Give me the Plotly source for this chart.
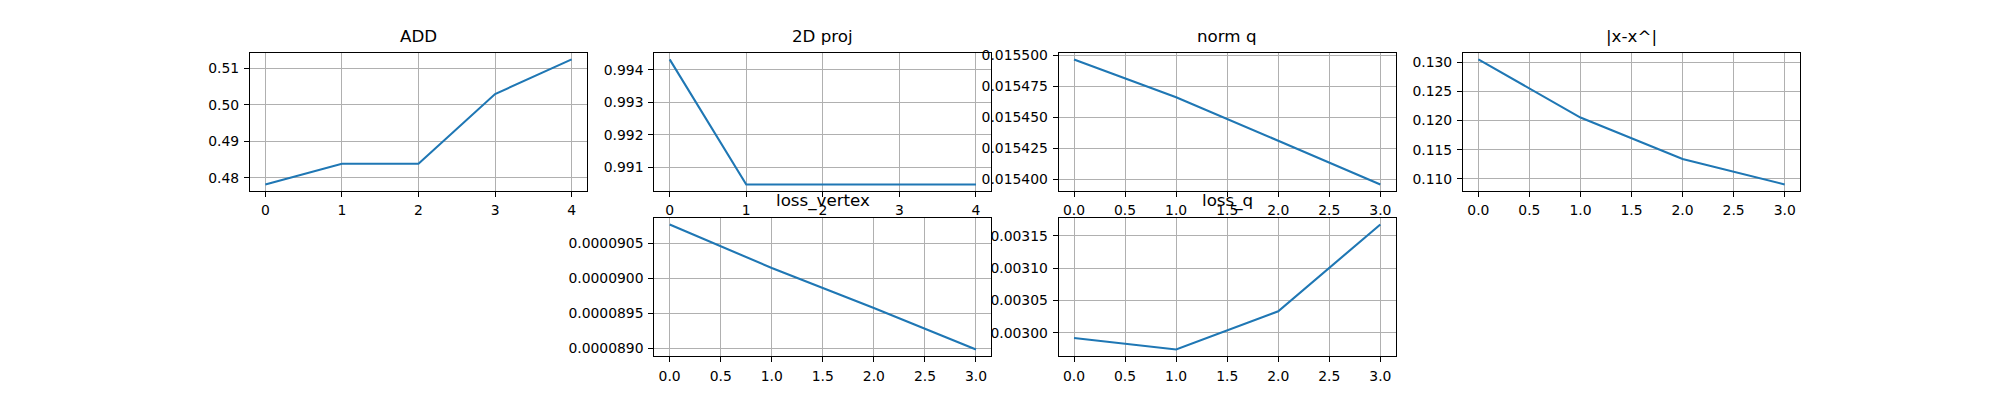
import plotly.graph_objects as go

# values
titles = ["ADD", "2D proj", "norm q", "|x-x^|", "loss_vertex", "loss_q"]
add_vals = [0.4782, 0.4839, 0.4839, 0.5030, 0.5125]
proj_vals = [0.99432, 0.99048, 0.99048, 0.99048, 0.99048]
normq_vals = [0.0154968, 0.0154662, 0.0154311, 0.0153958]
xdiff_vals = [0.13045, 0.1205, 0.11341, 0.10905]
loss_vertex_vals = [0.000090771, 0.00009015, 0.00008958, 0.000088986]
loss_q_vals = [0.0029919, 0.0029742, 0.0030334, 0.0031677]

# (values, row, col, y tickformat, y dtick, x tickformat, x dtick)
panels = [
    (add_vals, 0, 0, ".2f", 0.01, "d", 1),
    (proj_vals, 0, 1, ".3f", 0.001, "d", 1),
    (normq_vals, 0, 2, ".6f", 0.000025, ".1f", 0.5),
    (xdiff_vals, 0, 3, ".3f", 0.005, ".1f", 0.5),
    (loss_vertex_vals, 1, 1, ".7f", 0.0000005, ".1f", 0.5),
    (loss_q_vals, 1, 2, ".5f", 0.00005, ".1f", 0.5),
]

# matplotlib-like subplot grid (2 x 4, default spacing)
left, right, bottom, top = 0.125, 0.9, 0.11, 0.88
w = (right - left) / (4 + 3 * 0.2)
h = (top - bottom) / (2 + 0.2)

fnt = dict(family="DejaVu Sans", size=13.9, color="black")
fig = go.Figure()
annotations = []
layout = {}

for i, (vals, row, col, yfmt, ydt, xfmt, xdt) in enumerate(panels):
    n = i + 1
    xs = list(range(len(vals)))
    fig.add_trace(go.Scatter(x=xs, y=vals, mode="lines",
                             line=dict(color="#1f77b4", width=2.1),
                             xaxis="x%d" % n, yaxis="y%d" % n,
                             showlegend=False, hoverinfo="skip"))
    x0 = left + col * w * 1.2
    y1 = top - row * h * 1.2
    y0 = y1 - h
    xpad = (max(xs) - min(xs)) * 0.05
    ypad = (max(vals) - min(vals)) * 0.05
    common = dict(showline=True, mirror=True, linecolor="black", linewidth=1.1,
                  showgrid=True, gridcolor="#b0b0b0", gridwidth=1.1,
                  ticks="outside", ticklen=5, tickwidth=1.1, tickcolor="black",
                  zeroline=False, tickfont=fnt, tickmode="linear",
                  ticklabelstandoff=2)
    layout["xaxis%d" % n] = dict(domain=[x0, x0 + w], anchor="y%d" % n,
                                 range=[min(xs) - xpad, max(xs) + xpad],
                                 tick0=0, dtick=xdt, tickformat=xfmt, **common)
    layout["yaxis%d" % n] = dict(domain=[y0, y1], anchor="x%d" % n,
                                 range=[min(vals) - ypad, max(vals) + ypad],
                                 tick0=0, dtick=ydt, tickformat=yfmt, **common)
    annotations.append(dict(text=titles[i], x=x0 + w / 2, y=y1, xref="paper", yref="paper",
                            xanchor="center", yanchor="bottom", yshift=5, showarrow=False,
                            font=dict(family="DejaVu Sans", size=16.7, color="black")))

fig.update_layout(width=2000, height=400, margin=dict(l=0, r=0, t=0, b=0),
                  paper_bgcolor="white", plot_bgcolor="white",
                  annotations=annotations, **layout)

# drop the browser's default body margin so the figure sits at the top-left corner
fig.write_html("out.html", config={"displayModeBar": False},
               post_script="document.body.style.margin='0';")
